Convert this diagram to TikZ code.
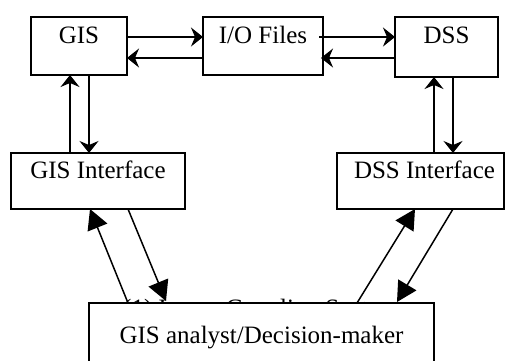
\documentclass[tikz,border=0pt]{standalone}
\usepackage{fontspec}
\setmainfont{Liberation Serif}
\usetikzlibrary{arrows.meta,calc}
\begin{document}
\begin{tikzpicture}[x=1pt,y=1pt,
  box/.style={draw,line width=1.5pt,fill=white,inner sep=0pt,outer sep=0pt,anchor=north west,font=\fontsize{25}{30}\selectfont},
  conn/.style={line width=1.5pt,-{Stealth[length=12pt,width=19pt,inset=4pt]}},
  bigconn/.style={line width=1.5pt,-{Triangle[length=20pt,width=21pt]}}]
\useasboundingbox (0,0) rectangle (506,-360);
\node[box,minimum width=96pt,text height=26pt,text depth=32pt] (gis) at (31,-17) {GIS};
\node[box,minimum width=120pt,text height=26pt,text depth=32pt] (io) at (203,-17) {I/O Files};
\node[box,minimum width=103pt,text height=26pt,text depth=34pt] (dss) at (395,-17) {DSS};
\node[box,minimum width=174pt,text height=25pt,text depth=31pt] (gisi) at (11,-153) {GIS Interface};
\node[box,minimum width=167pt,text height=25pt,text depth=31pt] (dssi) at (337,-153) {\hspace*{8pt}DSS Interface};
\node[anchor=base west,inner sep=0pt,font=\fontsize{25}{30}\selectfont] (hidden) at (123,-316.5) {(1) Loose Coupling System};
\node[box,minimum width=345pt,text height=40pt,text depth=22pt] (user) at (89,-303) {GIS analyst/Decision-maker};
% horizontal connectors
\draw[conn] ($(gis.north east)+(0,-20)$) -- ($(io.north west)+(0,-20)$);
\draw[conn] ($(io.north west)+(0,-41)$) -- ($(gis.north east)+(0,-41)$);
\draw[conn] ($(io.north east)+(-4,-20)$) -- ($(dss.north west)+(0,-20)$);
\draw[conn] ($(dss.north west)+(0,-41)$) -- ($(io.north east)+(-2,-41)$);
% vertical connectors
\draw[conn] ($(gisi.north west)+(59,0)$) -- ($(gis.south west)+(39,0)$);
\draw[conn] ($(gis.south west)+(58,0)$) -- ($(gisi.north west)+(78,0)$);
\draw[conn] ($(dssi.north west)+(97,0)$) -- ($(dss.south west)+(39,0)$);
\draw[conn] ($(dss.south west)+(58,0)$) -- ($(dssi.north west)+(116,0)$);
% diagonal connectors
\draw[bigconn] ($(user.north west)+(39,0)$) -- ($(gisi.south west)+(79,0)$);
\draw[bigconn] ($(gisi.south west)+(117,0)$) -- ($(user.north west)+(77,2)$);
\draw[bigconn] ($(user.north west)+(268,0)$) -- ($(dssi.south west)+(78,0)$);
\draw[bigconn] ($(dssi.south west)+(116,0)$) -- ($(user.north west)+(308,1)$);
\end{tikzpicture}
\end{document}
